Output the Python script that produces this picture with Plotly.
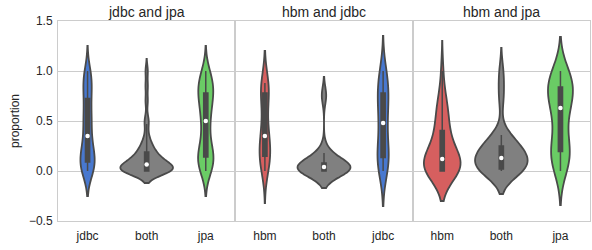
import numpy as np
import plotly.graph_objects as go
from plotly.subplots import make_subplots

# ---------------- data ----------------
panel_titles = ["jdbc and jpa", "hbm and jdbc", "hbm and jpa"]
panel_categories = [["jdbc", "both", "jpa"],
                    ["hbm", "both", "jdbc"],
                    ["hbm", "both", "jpa"]]

p1_jdbc = [0, 0, 0, 0.05, 0.08, 0.08, 0.10, 0.15, 0.20, 0.22, 0.25, 0.30,
           0.40, 0.45, 0.50, 0.55, 0.60, 0.70, 0.75, 0.80, 0.88, 0.92, 0.95, 1.0]
p1_both = [0, 0, 0, 0, 0, 0, 0, 0, 0, 0, 0, 0,
           0.01, 0.02, 0.03, 0.03, 0.04, 0.04, 0.05, 0.05, 0.06, 0.06,
           0.07, 0.08, 0.09, 0.10, 0.11, 0.12, 0.13, 0.14, 0.15, 0.17, 0.18,
           0.20, 0.22, 0.24, 0.27, 0.30, 0.36,
           0.47, 0.52, 0.70, 0.85, 1.0]
p1_jpa = [0, 0, 0.05, 0.10, 0.12, 0.13, 0.15, 0.20, 0.25, 0.30, 0.40, 0.48,
          0.52, 0.60, 0.65, 0.70, 0.75, 0.76, 0.80, 0.85, 0.88, 0.90, 0.95, 1.0]

p2_hbm = [0, 0.05, 0.10, 0.12, 0.14, 0.155, 0.20, 0.25, 0.30, 0.33,
          0.37, 0.45, 0.55, 0.65, 0.76, 0.80, 0.82, 0.85, 0.87, 0.88]
p2_both = [0, 0, 0, 0, 0, 0, 0, 0, 0,
           0.01, 0.02, 0.02, 0.03, 0.03, 0.04, 0.04,
           0.05, 0.05, 0.06, 0.06, 0.07, 0.07, 0.08,
           0.10, 0.12, 0.15, 0.18, 0.22, 0.74, 0.77]
p2_jdbc = [0, 0.02, 0.08, 0.10, 0.12, 0.15, 0.20, 0.28, 0.36, 0.45,
           0.51, 0.58, 0.65, 0.70, 0.76, 0.80, 0.85, 0.90, 0.95, 1.0]

p3_hbm = [0, 0, 0, 0, 0, 0, 0, 0, 0, 0,
          0.03, 0.05, 0.07, 0.08, 0.09, 0.10, 0.11, 0.115, 0.125,
          0.15, 0.18, 0.20, 0.23, 0.26, 0.29, 0.33, 0.38, 0.43,
          0.47, 0.50, 0.55, 0.60, 0.66, 0.72, 0.75, 1.0]
p3_both = [0, 0, 0, 0, 0, 0, 0, 0.02, 0.05,
           0.07, 0.08, 0.10, 0.11, 0.12, 0.12, 0.14,
           0.16, 0.18, 0.20, 0.21, 0.22, 0.24, 0.25,
           0.28, 0.31, 0.34, 0.36, 0.70, 0.85, 1.0]
p3_jpa = [0, 0.05, 0.12, 0.17, 0.18, 0.21, 0.30, 0.40, 0.50, 0.60,
          0.66, 0.70, 0.75, 0.78, 0.82, 0.86, 0.90, 0.93, 0.96, 1.0]

panel_values = [[p1_jdbc, p1_both, p1_jpa],
                [p2_hbm, p2_both, p2_jdbc],
                [p3_hbm, p3_both, p3_jpa]]

y_tick_values = [-0.5, 0.0, 0.5, 1.0, 1.5]
y_tick_labels = ["\u22120.5", "0.0", "0.5", "1.0", "1.5"]
y_label = "proportion"

# ---------------- style ----------------
fill_colors = {"jdbc": "#4878CF", "jpa": "#6ACC65", "hbm": "#D65F5F", "both": "#808080"}
line_gray = "#4a4a4a"
text_color = "#262626"
grid_color = "#cccccc"
font_family = "Liberation Sans, Arial, sans-serif"

# KDE bandwidths and max widths (category units) per violin
bandwidths = [[0.125, 0.06, 0.125], [0.16, 0.085, 0.175], [0.15, 0.115, 0.17]]
widths = [[0.24, 0.89, 0.26], [0.18, 0.89, 0.19], [0.62, 0.89, 0.42]]

W, H = 592, 250
ML, MR, MT, MB = 58, 2, 21, 29
px_per_unit = (W - ML - MR) / 3 / 3.0
box_px = 4.2

fig = make_subplots(rows=1, cols=3, shared_yaxes=True, horizontal_spacing=0)

for p in range(3):
    for k in range(3):
        cat = panel_categories[p][k]
        vals = panel_values[p][k]
        w = widths[p][k]
        fig.add_trace(go.Violin(
            x=[cat] * len(vals), y=vals,
            name=f"{panel_titles[p]} {cat}",
            scalegroup=f"g{p}{k}", scalemode="width",
            width=w, bandwidth=bandwidths[p][k], spanmode="soft",
            fillcolor=fill_colors[cat], opacity=1,
            line=dict(color=line_gray, width=1.8),
            points=False,
            box=dict(visible=True, width=box_px / (w * px_per_unit),
                     fillcolor=line_gray, line=dict(color=line_gray, width=1.5)),
            meanline=dict(visible=False),
            hoverinfo="skip", showlegend=False,
        ), row=1, col=p + 1)
    fig.add_trace(go.Scatter(
        x=panel_categories[p],
        y=[float(np.median(v)) for v in panel_values[p]],
        mode="markers", marker=dict(color="white", size=4.5, line=dict(width=0)),
        hoverinfo="skip", showlegend=False,
    ), row=1, col=p + 1)

for p in range(3):
    fig.update_xaxes(
        type="category", categoryorder="array", categoryarray=panel_categories[p],
        range=[-0.5, 2.5], showgrid=False, zeroline=False, automargin=False,
        showline=True, mirror=True, linecolor=grid_color, linewidth=1,
        ticks="", ticklabelstandoff=4,
        tickfont=dict(size=12, color=text_color, family=font_family),
        fixedrange=True, row=1, col=p + 1)
    fig.update_yaxes(
        range=[-0.5, 1.5], tickvals=y_tick_values, ticktext=y_tick_labels,
        showgrid=True, gridcolor=grid_color, gridwidth=1, zeroline=False,
        automargin=False, fixedrange=True,
        showline=True, mirror=True, linecolor=grid_color, linewidth=1,
        ticks="", ticklabelstandoff=2,
        tickfont=dict(size=12, color=text_color, family=font_family),
        showticklabels=(p == 0), row=1, col=p + 1)

annotations = []
for p in range(3):
    annotations.append(dict(
        text=panel_titles[p], x=(p + 0.5) / 3, y=1, xref="paper", yref="paper",
        xanchor="center", yanchor="middle", yshift=9, showarrow=False,
        font=dict(size=14, color=text_color, family=font_family)))
annotations.append(dict(
    text=y_label, x=(15 - ML) / (W - ML - MR), y=0.5, xref="paper", yref="paper",
    xanchor="center", yanchor="middle", textangle=-90, showarrow=False,
    font=dict(size=12, color=text_color, family=font_family)))

fig.update_layout(
    width=W, height=H, margin=dict(l=ML, r=MR, t=MT, b=MB),
    paper_bgcolor="white", plot_bgcolor="white",
    violinmode="overlay", violingap=0, violingroupgap=0,
    font=dict(family=font_family, color=text_color),
    annotations=annotations, showlegend=False, hovermode=False,
)

fig.write_html("out.html", config={"displayModeBar": False, "staticPlot": True},
               post_script="document.body.style.margin='0px';document.body.style.overflow='hidden';")
